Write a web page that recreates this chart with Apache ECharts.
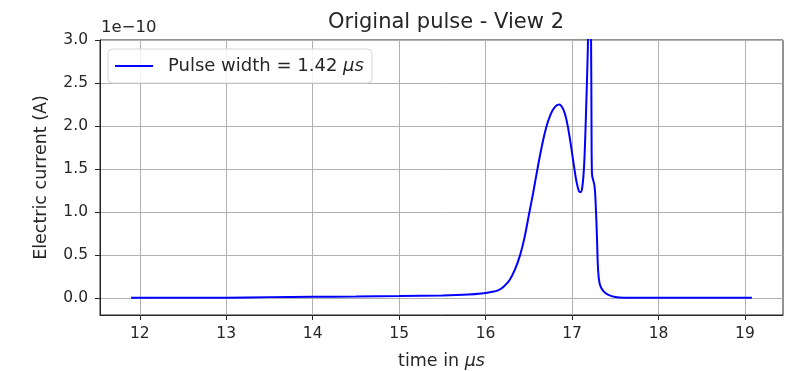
<!DOCTYPE html>
<html>
<head>
<meta charset="utf-8">
<script src="https://cdn.jsdelivr.net/npm/echarts@6/dist/echarts.min.js"></script>
<style>
  html, body { margin: 0; padding: 0; background: #fff; }
  #chart { width: 796px; height: 371px; }
</style>
</head>
<body>
<div id="chart"></div>
<script>
// Pulse samples: time in microseconds, current in units of 1e-10 A
const timeUs = [
  11.9, 12.5, 13.0, 13.5, 14.0, 14.5, 15.0, 15.5, 15.8, 15.95,
  16.05, 16.15, 16.22, 16.28, 16.34, 16.40, 16.45, 16.50, 16.55, 16.60,
  16.65, 16.70, 16.75, 16.80, 16.85, 16.90, 16.94, 16.98, 17.02, 17.05,
  17.08, 17.10, 17.12, 17.14, 17.16, 17.18, 17.195, 17.21, 17.22, 17.225,
  17.23, 17.26, 17.275, 17.29, 17.30, 17.32, 17.36, 17.42, 17.5, 17.6,
  18.0, 19.08
];
const currentE10 = [
  0.0, 0.0, 0.002, 0.008, 0.012, 0.015, 0.02, 0.028, 0.038, 0.05,
  0.065, 0.09, 0.14, 0.21, 0.33, 0.50, 0.70, 0.96, 1.22, 1.50,
  1.76, 1.98, 2.13, 2.22, 2.25, 2.19, 2.05, 1.82, 1.55, 1.36,
  1.24, 1.23, 1.30, 1.55, 2.1, 2.8, 3.4, 3.5, 3.0, 2.0,
  1.45, 1.30, 1.05, 0.65, 0.35, 0.16, 0.08, 0.035, 0.01, 0.002,
  0.0, 0.0
];
const xTicks = [12, 13, 14, 15, 16, 17, 18, 19];
const yTicks = [0.0, 0.5, 1.0, 1.5, 2.0, 2.5, 3.0];

const FONT = 'DejaVu Sans';
const INK = '#262626';
const chart = echarts.init(document.getElementById('chart'), null, { renderer: 'canvas' });

chart.setOption({
  animation: false,
  backgroundColor: '#ffffff',
  textStyle: { fontFamily: FONT },
  title: {
    text: 'Original pulse - View 2',
    left: 441, top: 7, textAlign: 'center',
    textStyle: { fontFamily: FONT, fontSize: 21, fontWeight: 'normal', color: INK }
  },
  grid: {
    left: 100, right: 13, top: 40, bottom: 56,
    outerBoundsMode: 'none',
    containLabel: false,
    show: true, borderColor: INK, borderWidth: 1, backgroundColor: 'transparent'
  },
  legend: {
    left: 108, top: 49,
    orient: 'vertical',
    padding: [8, 8, 8, 7],
    itemWidth: 38, itemHeight: 2,
    icon: 'rect',
    borderColor: '#d6d6d6', borderWidth: 1, borderRadius: 4,
    backgroundColor: 'rgba(255,255,255,0.85)',
    formatter: () => '{n|Pulse width = 1.42 }{i|μs}',
    textStyle: {
      fontFamily: FONT, fontSize: 18, color: INK,
      rich: {
        n: { fontFamily: FONT, fontSize: 18, color: INK, padding: [0, 0, 0, 10] },
        i: { fontFamily: FONT, fontSize: 18, color: INK, fontStyle: 'italic' }
      }
    },
    data: ['pulse']
  },
  xAxis: {
    type: 'value',
    min: 11.54, max: 19.44,
    name: '{n|time in }{i|μs}',
    nameLocation: 'middle', nameGap: 37,
    nameTextStyle: {
      fontFamily: FONT, fontSize: 17.5, color: INK,
      rich: {
        n: { fontFamily: FONT, fontSize: 17.5, color: INK },
        i: { fontFamily: FONT, fontSize: 17.5, color: INK, fontStyle: 'italic' }
      }
    },
    axisLine: { show: true, onZero: false, lineStyle: { color: INK, width: 1 } },
    axisTick: { show: true, inside: false, length: 5, customValues: xTicks, lineStyle: { color: INK } },
    axisLabel: { customValues: xTicks, margin: 11, fontFamily: FONT, fontSize: 15.5, color: INK, formatter: v => String(v) },
    splitLine: { show: true, lineStyle: { color: '#b0b0b0', width: 1 } }
  },
  yAxis: {
    type: 'value',
    min: -0.2, max: 3.0,
    name: 'Electric current (A)',
    nameLocation: 'middle', nameGap: 50, nameRotate: 90,
    nameTextStyle: { fontFamily: FONT, fontSize: 17.5, color: INK },
    axisLine: { show: true, onZero: false, lineStyle: { color: INK, width: 1 } },
    axisTick: { show: true, inside: false, length: 5, customValues: yTicks, lineStyle: { color: INK } },
    axisLabel: { customValues: yTicks, margin: 12, fontFamily: FONT, fontSize: 15.5, color: INK, formatter: v => v.toFixed(1) },
    splitLine: { show: true, lineStyle: { color: '#b0b0b0', width: 1 } }
  },
  graphic: [{
    type: 'text', left: 101, top: 19,
    style: { text: '1e\u221210', font: '16.5px "DejaVu Sans"', fill: INK }
  }],
  series: [{
    name: 'pulse',
    type: 'line',
    data: timeUs.map((t, i) => [t, currentE10[i]]),
    showSymbol: false,
    smooth: 0.4,
    clip: true,
    itemStyle: { color: '#0000ff' },
    lineStyle: { color: '#0000ff', width: 2 }
  }]
});
</script>
</body>
</html>
